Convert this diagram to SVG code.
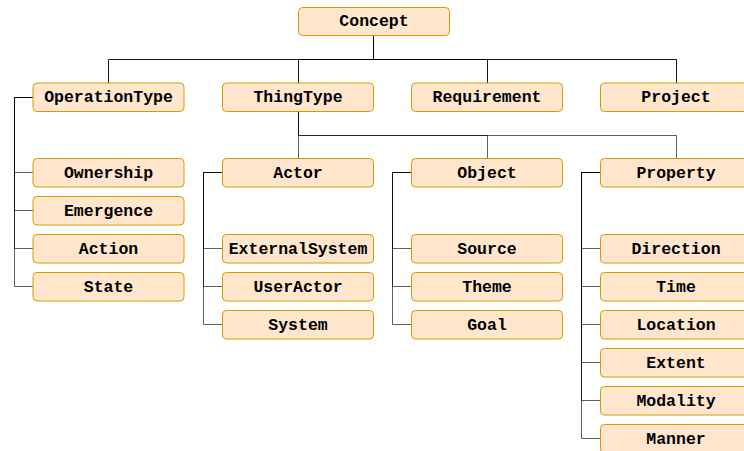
<svg xmlns="http://www.w3.org/2000/svg" width="744" height="451" viewBox="0 0 744 451">
<style>
.n rect{fill:#ffe6cc;stroke:#d79b00;stroke-width:1}
.n text{font-family:"Liberation Mono","Courier New",monospace;font-weight:bold;font-size:16.5px;fill:#000;text-anchor:middle}
#edges path{fill:none;stroke:#000;stroke-width:1;stroke-opacity:0.62}
#edges path.top{stroke-opacity:0.9}
</style>
<rect width="744" height="451" fill="#fff"/>
<g id="edges">
<path class="top" d="M373.5,35 V59.5 H108.5 V83"/>
<path class="top" d="M373.5,35 V59.5 H298.5 V83"/>
<path class="top" d="M373.5,35 V59.5 H487.5 V83"/>
<path class="top" d="M373.5,35 V59.5 H676.5 V83"/>
<path d="M298.5,111 V159"/>
<path d="M298.5,111 V135.5 H487.5 V159"/>
<path d="M298.5,111 V135.5 H676.5 V159"/>
<path d="M33,97.5 H14.5 V172.5 H33"/>
<path d="M33,97.5 H14.5 V210.5 H33"/>
<path d="M33,97.5 H14.5 V248.5 H33"/>
<path d="M33,97.5 H14.5 V286.5 H33"/>
<path d="M222,172.5 H203.5 V248.5 H222"/>
<path d="M222,172.5 H203.5 V286.5 H222"/>
<path d="M222,172.5 H203.5 V324.5 H222"/>
<path d="M411,172.5 H392.5 V248.5 H411"/>
<path d="M411,172.5 H392.5 V286.5 H411"/>
<path d="M411,172.5 H392.5 V324.5 H411"/>
<path d="M600,172.5 H581.5 V248.5 H600"/>
<path d="M600,172.5 H581.5 V286.5 H600"/>
<path d="M600,172.5 H581.5 V324.5 H600"/>
<path d="M600,172.5 H581.5 V362.5 H600"/>
<path d="M600,172.5 H581.5 V400.5 H600"/>
<path d="M600,172.5 H581.5 V438.5 H600"/>
</g>
<g id="concept" class="n"><rect x="298.5" y="7.5" width="151" height="28" rx="4"/><text x="374" y="26">Concept</text></g>
<g id="operationtype" class="n"><rect x="33" y="83" width="151" height="28.5" rx="4"/><text x="108.5" y="102">OperationType</text></g>
<g id="thingtype" class="n"><rect x="222.5" y="83" width="151" height="28.5" rx="4"/><text x="298" y="102">ThingType</text></g>
<g id="requirement" class="n"><rect x="411.5" y="83" width="151" height="28.5" rx="4"/><text x="487" y="102">Requirement</text></g>
<g id="project" class="n"><rect x="600.5" y="83" width="151" height="28.5" rx="4"/><text x="676" y="102">Project</text></g>
<g id="ownership" class="n"><rect x="33" y="158.5" width="151" height="28.5" rx="4"/><text x="108.5" y="178">Ownership</text></g>
<g id="emergence" class="n"><rect x="33" y="196.5" width="151" height="28.5" rx="4"/><text x="108.5" y="216">Emergence</text></g>
<g id="action" class="n"><rect x="33" y="234.5" width="151" height="28.5" rx="4"/><text x="108.5" y="254">Action</text></g>
<g id="state" class="n"><rect x="33" y="272.5" width="151" height="28.5" rx="4"/><text x="108.5" y="292">State</text></g>
<g id="actor" class="n"><rect x="222.5" y="158.5" width="151" height="28.5" rx="4"/><text x="298" y="178">Actor</text></g>
<g id="externalsystem" class="n"><rect x="222.5" y="234.5" width="151" height="28.5" rx="4"/><text x="298" y="254">ExternalSystem</text></g>
<g id="useractor" class="n"><rect x="222.5" y="272.5" width="151" height="28.5" rx="4"/><text x="298" y="292">UserActor</text></g>
<g id="system" class="n"><rect x="222.5" y="310.5" width="151" height="28.5" rx="4"/><text x="298" y="330">System</text></g>
<g id="object" class="n"><rect x="411.5" y="158.5" width="151" height="28.5" rx="4"/><text x="487" y="178">Object</text></g>
<g id="source" class="n"><rect x="411.5" y="234.5" width="151" height="28.5" rx="4"/><text x="487" y="254">Source</text></g>
<g id="theme" class="n"><rect x="411.5" y="272.5" width="151" height="28.5" rx="4"/><text x="487" y="292">Theme</text></g>
<g id="goal" class="n"><rect x="411.5" y="310.5" width="151" height="28.5" rx="4"/><text x="487" y="330">Goal</text></g>
<g id="property" class="n"><rect x="600.5" y="158.5" width="151" height="28.5" rx="4"/><text x="676" y="178">Property</text></g>
<g id="direction" class="n"><rect x="600.5" y="234.5" width="151" height="28.5" rx="4"/><text x="676" y="254">Direction</text></g>
<g id="time" class="n"><rect x="600.5" y="272.5" width="151" height="28.5" rx="4"/><text x="676" y="292">Time</text></g>
<g id="location" class="n"><rect x="600.5" y="310.5" width="151" height="28.5" rx="4"/><text x="676" y="330">Location</text></g>
<g id="extent" class="n"><rect x="600.5" y="348.5" width="151" height="28.5" rx="4"/><text x="676" y="368">Extent</text></g>
<g id="modality" class="n"><rect x="600.5" y="386.5" width="151" height="28.5" rx="4"/><text x="676" y="406">Modality</text></g>
<g id="manner" class="n"><rect x="600.5" y="424.5" width="151" height="28.5" rx="4"/><text x="676" y="444">Manner</text></g>
</svg>
